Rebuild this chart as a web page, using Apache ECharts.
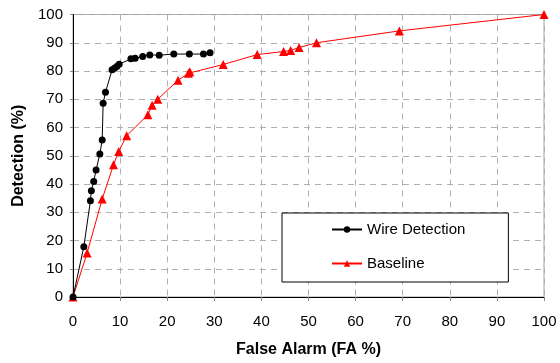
<!DOCTYPE html>
<html><head><meta charset="utf-8">
<script src="https://cdn.jsdelivr.net/npm/echarts@6/dist/echarts.min.js"></script>
<style>html,body{margin:0;padding:0;background:#fff}#c{width:560px;height:363px}</style>
</head><body><div id="c"></div>
<script>
const wireX = [0, 2.3, 3.7, 3.9, 4.4, 4.9, 5.7, 6.2, 6.4, 6.9, 8.3, 8.8, 9.3, 9.8, 12.3, 13.2, 14.8, 16.3, 18.3, 21.4, 24.7, 27.7, 29.1];
const wireY = [0, 17.8, 34.1, 37.6, 40.9, 45, 50.6, 55.6, 68.6, 72.5, 80.4, 81, 81.6, 82.4, 84.3, 84.5, 85.1, 85.7, 85.6, 86, 86, 86, 86.5];
const baseX = [0, 3.0, 6.2, 8.6, 9.7, 11.4, 15.9, 16.8, 18.0, 22.3, 24.5, 24.8, 31.9, 39.1, 44.7, 46.2, 48.0, 51.7, 69.3, 100];
const baseY = [0, 15.6, 34.7, 46.8, 51.5, 57.1, 64.5, 67.9, 70.0, 76.7, 79.2, 79.7, 82.3, 85.8, 86.9, 87.3, 88.3, 90.0, 94.2, 100];
const xTicks = [0,10,20,30,40,50,60,70,80,90,100];
const yTicks = [0,10,20,30,40,50,60,70,80,90,100];

const font = 'Liberation Sans, Arial, sans-serif';
const chart = echarts.init(document.getElementById('c'));
chart.setOption({
  animation: false,
  backgroundColor: '#fff',
  grid: {left: 73, right: 16, top: 14.5, bottom: 65.5, show: true, borderColor: '#a0a0a0', borderWidth: 1, backgroundColor: 'transparent'},
  xAxis: {
    type: 'value', min: xTicks[0], max: xTicks[xTicks.length-1], interval: 10,
    name: 'False Alarm (FA %)', nameLocation: 'middle', nameGap: 45,
    nameTextStyle: {fontFamily: font, fontWeight: 'bold', fontSize: 16, color: '#000'},
    axisLine: {lineStyle: {color: '#000', width: 1}},
    axisTick: {show: true, length: 4, lineStyle: {color: '#888'}},
    axisLabel: {fontFamily: font, fontSize: 15, color: '#000', margin: 17},
    splitLine: {show: true, lineStyle: {color: '#b0b0b0', type: [6, 5], width: 1}}
  },
  yAxis: {
    type: 'value', min: yTicks[0], max: yTicks[yTicks.length-1], interval: 10,
    name: 'Detection (%)', nameLocation: 'middle', nameGap: 46, nameRotate: 90,
    nameTextStyle: {fontFamily: font, fontWeight: 'bold', fontSize: 16, color: '#000'},
    axisLine: {show: true, lineStyle: {color: '#000', width: 1}},
    axisTick: {show: true, length: 3, lineStyle: {color: '#888'}},
    axisLabel: {fontFamily: font, fontSize: 15, color: '#000', margin: 10},
    splitLine: {show: true, lineStyle: {color: '#b0b0b0', type: [6, 5], width: 1}}
  },
  legend: {
    left: 282, top: 213, orient: 'vertical',
    padding: [9, 43, 11, 49],
    borderColor: '#000', borderWidth: 1, backgroundColor: '#fff',
    itemWidth: 30, itemHeight: 8, itemGap: 19,
    textStyle: {fontFamily: font, fontSize: 15, color: '#000'},
    data: ['Wire Detection', 'Baseline']
  },
  series: [
    {
      name: 'Wire Detection', type: 'line',
      data: wireX.map((x, i) => [x, wireY[i]]),
      symbol: 'circle', symbolSize: 7,
      lineStyle: {color: '#000', width: 1},
      itemStyle: {color: '#000'}, z: 3
    },
    {
      name: 'Baseline', type: 'line',
      data: baseX.map((x, i) => [x, baseY[i]]),
      symbol: 'triangle', symbolSize: 9,
      lineStyle: {color: '#ff0000', width: 1},
      itemStyle: {color: '#ff0000'}, z: 2
    }
  ]
});
</script></body></html>
